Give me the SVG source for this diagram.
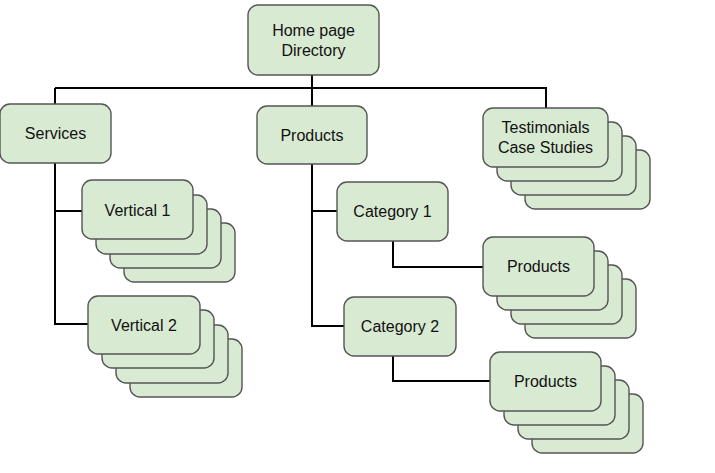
<svg xmlns="http://www.w3.org/2000/svg" width="715" height="473" viewBox="0 0 715 473">
<style>
.b{fill:#d9ead3;stroke:#555;stroke-width:1.4}
.t{font-family:"Liberation Sans",Arial,sans-serif;font-size:16px;fill:#111;text-anchor:middle}
.c{fill:none;stroke:#000;stroke-width:2}
</style>
<rect width="715" height="473" fill="#fff"/>
<g id="connectors">
<path class="c" d="M312 75V88M55 88H546V108M55 88V104M312 88V106"/>
<path class="c" d="M55 163V324H88M55 211H82"/>
<path class="c" d="M312 164V326H344M312 211H337"/>
<path class="c" d="M393 241V267H483M393 356V381H490"/>
</g>
<g id="home"><rect class="b" x="248" y="5" width="131" height="70" rx="10"/><text class="t" x="313.5" y="36">Home page</text><text class="t" x="313.5" y="56">Directory</text></g>
<g id="services"><rect class="b" x="0" y="104" width="111" height="59" rx="10"/><text class="t" x="55.5" y="139">Services</text></g>
<g id="products"><rect class="b" x="257" y="106" width="110" height="58" rx="10"/><text class="t" x="312" y="141">Products</text></g>
<g id="testimonials">
<rect class="b" x="525" y="150" width="125" height="59" rx="10"/>
<rect class="b" x="511" y="136" width="125" height="59" rx="10"/>
<rect class="b" x="497" y="122" width="125" height="59" rx="10"/>
<rect class="b" x="483" y="108" width="125" height="59" rx="10"/>
<text class="t" x="545.5" y="133">Testimonials</text><text class="t" x="545.5" y="153">Case Studies</text></g>
<g id="vertical1">
<rect class="b" x="124" y="223" width="111" height="59" rx="10"/>
<rect class="b" x="110" y="209" width="111" height="59" rx="10"/>
<rect class="b" x="96" y="195" width="111" height="59" rx="10"/>
<rect class="b" x="82" y="180" width="111" height="59" rx="10"/>
<text class="t" x="137.5" y="216">Vertical 1</text></g>
<g id="vertical2">
<rect class="b" x="130" y="339" width="112" height="58" rx="10"/>
<rect class="b" x="116" y="325" width="112" height="58" rx="10"/>
<rect class="b" x="102" y="310" width="112" height="58" rx="10"/>
<rect class="b" x="88" y="296" width="112" height="58" rx="10"/>
<text class="t" x="144" y="331">Vertical 2</text></g>
<g id="category1"><rect class="b" x="337" y="182" width="111" height="59" rx="10"/><text class="t" x="392.5" y="217">Category 1</text></g>
<g id="category2"><rect class="b" x="344" y="297" width="112" height="59" rx="10"/><text class="t" x="400" y="332">Category 2</text></g>
<g id="products1">
<rect class="b" x="525" y="279" width="111" height="59" rx="10"/>
<rect class="b" x="511" y="265" width="111" height="59" rx="10"/>
<rect class="b" x="497" y="251" width="111" height="59" rx="10"/>
<rect class="b" x="483" y="237" width="111" height="59" rx="10"/>
<text class="t" x="538.5" y="272">Products</text></g>
<g id="products2">
<rect class="b" x="532" y="394" width="111" height="59" rx="10"/>
<rect class="b" x="518" y="380" width="111" height="59" rx="10"/>
<rect class="b" x="504" y="366" width="111" height="59" rx="10"/>
<rect class="b" x="490" y="352" width="111" height="59" rx="10"/>
<text class="t" x="545.5" y="387">Products</text></g>
</svg>
